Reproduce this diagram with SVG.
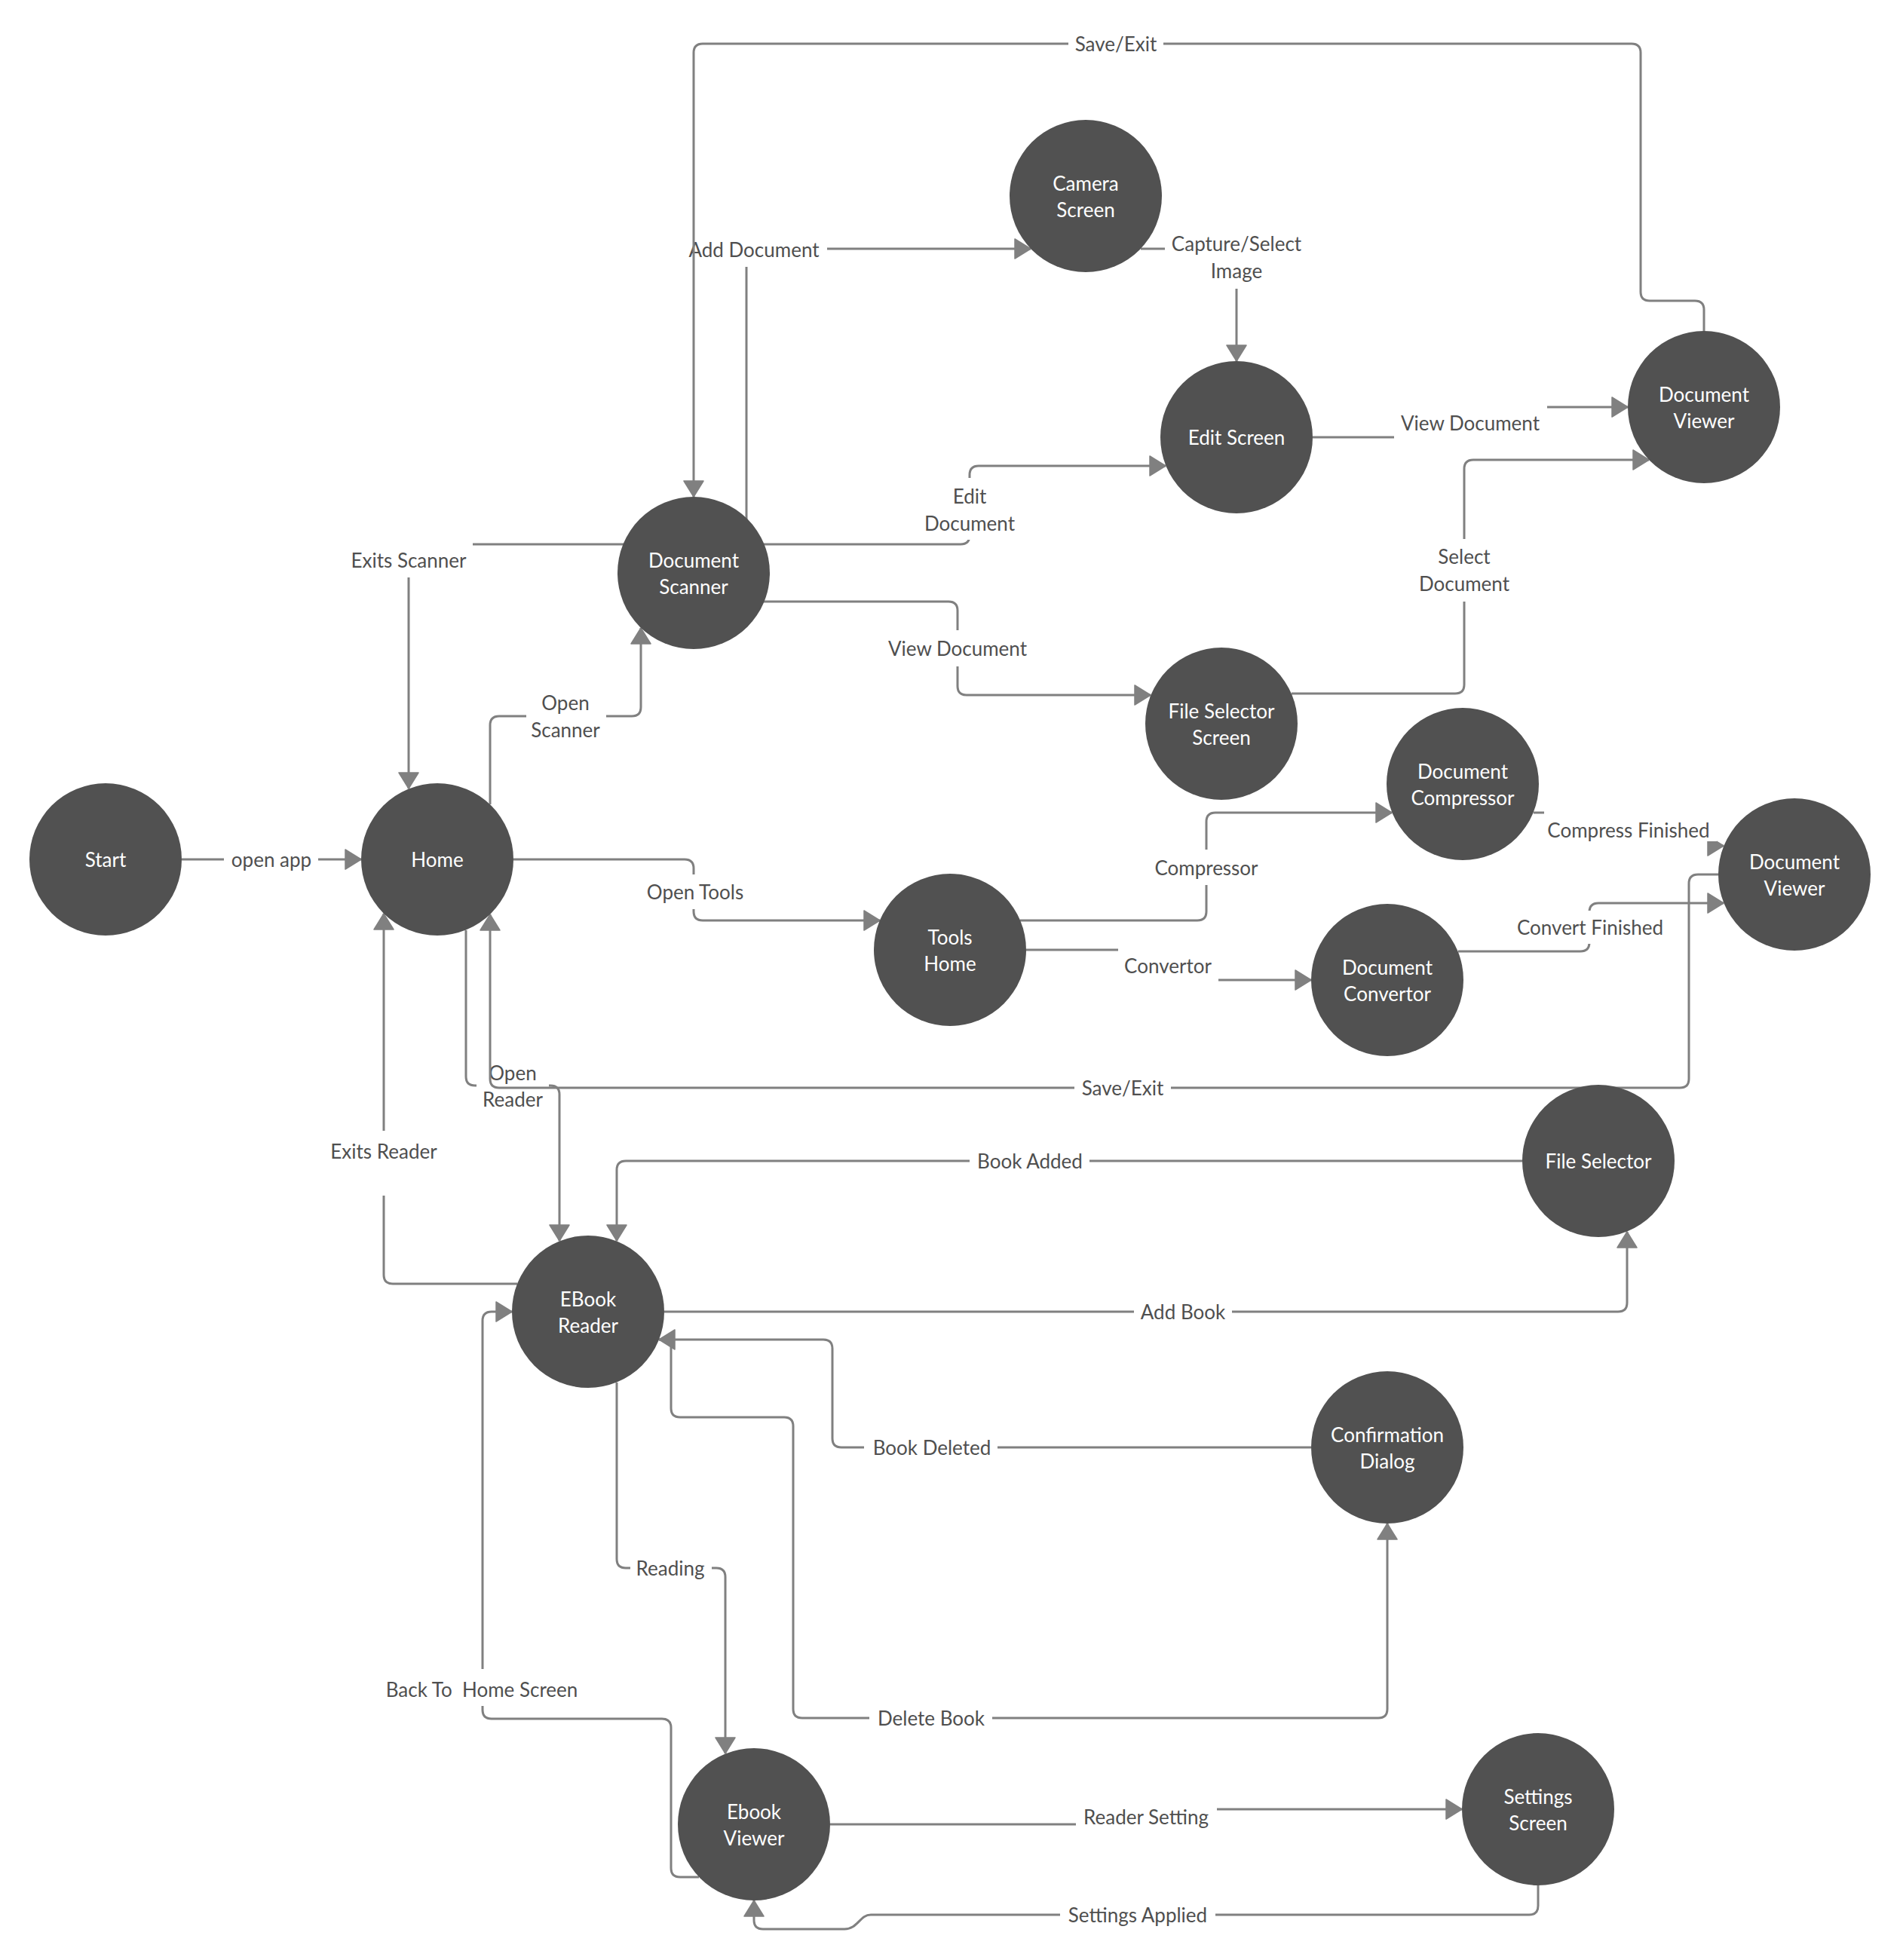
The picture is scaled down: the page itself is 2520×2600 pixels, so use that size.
<svg xmlns="http://www.w3.org/2000/svg" width="2520" height="2600" viewBox="0 0 2520 2600">
  <defs>
    <style>
      .edge { fill: none; stroke: #808080; stroke-width: 3; }
      .arrow { marker-end: url(#head); }
      .lbl rect { fill: #ffffff; }
      .lbl text { fill: #4f4f4f; font-family: Lato, "Liberation Sans", sans-serif; font-size: 26px; text-anchor: middle; }
      .node circle { fill: #515151; }
      .node text { fill: #ffffff; font-family: Lato, "Liberation Sans", sans-serif; font-size: 26px; text-anchor: middle; }
    </style>
    <marker id="head" markerUnits="userSpaceOnUse" markerWidth="26" markerHeight="30" viewBox="-23 -15 26 30" refX="0" refY="0" orient="auto">
      <path d="M-21,-13 L0,0 L-21,13 Z" fill="#808080" stroke="#808080" stroke-width="1.5" stroke-linejoin="round"/>
    </marker>
  </defs>
  <rect width="2520" height="2600" fill="#ffffff"/>

  <!-- connectors (drawn under the nodes) -->
  <g id="connectors">
    <!-- Start -> Home -->
    <path class="edge arrow" d="M241,1140 H479"/>
    <g class="lbl"><rect x="297" y="1117" width="125" height="46"/><text x="360" y="1150">open app</text></g>

    <!-- Home -> Document Scanner -->
    <path class="edge arrow" d="M650,1067 V962 Q650,950 662,950 H838 Q850,950 850,938 V833"/>
    <g class="lbl"><rect x="698" y="909" width="106" height="84"/><text x="750" y="942">Open<tspan x="750" dy="36">Scanner</tspan></text></g>

    <!-- Document Scanner -> Home -->
    <path class="edge arrow" d="M827,722 H554 Q542,722 542,734 V1046"/>
    <g class="lbl"><rect x="457" y="720" width="170" height="46"/><text x="542" y="753">Exits Scanner</text></g>

    <!-- Home -> Tools Home -->
    <path class="edge arrow" d="M681,1140 H908 Q920,1140 920,1152 V1209 Q920,1221 932,1221 H1167"/>
    <g class="lbl"><rect x="848" y="1160" width="148" height="46"/><text x="922" y="1193">Open Tools</text></g>

    <!-- Tools Home -> Document Compressor -->
    <path class="edge arrow" d="M1353,1221 H1588 Q1600,1221 1600,1209 V1090 Q1600,1078 1612,1078 H1846"/>
    <g class="lbl"><rect x="1523" y="1127" width="155" height="47"/><text x="1600" y="1161">Compressor</text></g>

    <!-- Tools Home -> Document Convertor -->
    <path class="edge arrow" d="M1361,1260 H1539 Q1549,1260 1549,1270 V1290 Q1549,1300 1559,1300 H1739"/>
    <g class="lbl"><rect x="1483" y="1257" width="133" height="47"/><text x="1549" y="1291">Convertor</text></g>

    <!-- Document Compressor -> Document Viewer -->
    <path class="edge" d="M2034,1078 H2048"/>
    <path class="edge arrow" d="M2270,1122 H2286"/>
    <g class="lbl"><rect x="2043" y="1080" width="234" height="36"/><text x="2160" y="1111">Compress Finished</text></g>

    <!-- Document Convertor -> Document Viewer -->
    <path class="edge arrow" d="M1934,1262 H2096 Q2108,1262 2108,1250 V1210 Q2108,1198 2120,1198 H2286"/>
    <g class="lbl"><rect x="2003" y="1208" width="213" height="44"/><text x="2109" y="1240">Convert Finished</text></g>

    <!-- Home -> EBook Reader -->
    <path class="edge arrow" d="M618,1234 V1428 Q618,1440 630,1440 H730 Q742,1440 742,1452 V1646"/>
    <g class="lbl"><rect x="632" y="1400" width="96" height="82"/><text x="680" y="1433">Open<tspan x="680" dy="35">Reader</tspan></text></g>

    <!-- EBook Reader -> Home -->
    <path class="edge arrow" d="M686,1703 H521 Q509,1703 509,1691 V1212"/>
    <g class="lbl"><rect x="428" y="1500" width="162" height="86"/><text x="509" y="1537">Exits Reader</text></g>

    <!-- File Selector -> EBook Reader -->
    <path class="edge arrow" d="M2019,1540 H830 Q818,1540 818,1552 V1646"/>
    <g class="lbl"><rect x="1286" y="1517" width="159" height="46"/><text x="1366" y="1550">Book Added</text></g>

    <!-- EBook Reader -> File Selector -->
    <path class="edge arrow" d="M881,1740 H2146 Q2158,1740 2158,1728 V1634"/>
    <g class="lbl"><rect x="1504" y="1717" width="130" height="46"/><text x="1569" y="1750">Add Book</text></g>

    <!-- Confirmation Dialog -> EBook Reader -->
    <path class="edge arrow" d="M1739,1920 H1116 Q1104,1920 1104,1908 V1789 Q1104,1777 1092,1777 H874"/>
    <g class="lbl"><rect x="1146" y="1897" width="177" height="46"/><text x="1236" y="1930">Book Deleted</text></g>

    <!-- EBook Reader -> Confirmation Dialog -->
    <path class="edge arrow" d="M874,1777 H878 Q890,1777 890,1789 V1868 Q890,1880 902,1880 H1040 Q1052,1880 1052,1892 V2267 Q1052,2279 1064,2279 H1828 Q1840,2279 1840,2267 V2021"/>
    <g class="lbl"><rect x="1153" y="2256" width="163" height="46"/><text x="1235" y="2289">Delete Book</text></g>

    <!-- EBook Reader -> Ebook Viewer -->
    <path class="edge arrow" d="M818,1834 V2068 Q818,2080 830,2080 H950 Q962,2080 962,2092 V2326"/>
    <g class="lbl"><rect x="836" y="2057" width="108" height="46"/><text x="889" y="2090">Reading</text></g>

    <!-- Ebook Viewer -> EBook Reader -->
    <path class="edge arrow" d="M927,2490 H902 Q890,2490 890,2478 V2292 Q890,2280 878,2280 H652 Q640,2280 640,2268 V1752 Q640,1740 652,1740 H679"/>
    <g class="lbl"><rect x="502" y="2214" width="274" height="49"/><text x="639" y="2251" xml:space="preserve">Back To  Home Screen</text></g>

    <!-- Ebook Viewer -> Settings Screen -->
    <path class="edge arrow" d="M1101,2420 H1510 Q1520,2420 1520,2410 Q1520,2400 1530,2400 H1939"/>
    <g class="lbl"><rect x="1427" y="2387" width="187" height="46"/><text x="1520" y="2420">Reader Setting</text></g>

    <!-- Settings Screen -> Ebook Viewer -->
    <path class="edge arrow" d="M2040,2501 V2528 Q2040,2540 2028,2540 H1155 C1140,2540 1138,2559 1120,2559 H1012 Q1000,2559 1000,2547 V2521"/>
    <g class="lbl"><rect x="1406" y="2517" width="206" height="46"/><text x="1509" y="2550">Settings Applied</text></g>

    <!-- Document Scanner -> File Selector Screen -->
    <path class="edge arrow" d="M1013,798 H1258 Q1270,798 1270,810 V910 Q1270,922 1282,922 H1526"/>
    <g class="lbl"><rect x="1168" y="836" width="204" height="48"/><text x="1270" y="870">View Document</text></g>

    <!-- File Selector Screen -> Document Viewer -->
    <path class="edge arrow" d="M1713,920 H1930 Q1942,920 1942,908 V622 Q1942,610 1954,610 H2187"/>
    <g class="lbl"><rect x="1875" y="715" width="135" height="83"/><text x="1942" y="748">Select<tspan x="1942" dy="36">Document</tspan></text></g>

    <!-- Document Scanner -> Edit Screen -->
    <path class="edge arrow" d="M1013,722 H1274 Q1286,722 1286,710 V630 Q1286,618 1298,618 H1546"/>
    <g class="lbl"><rect x="1218" y="634" width="136" height="82"/><text x="1286" y="668">Edit<tspan x="1286" dy="36">Document</tspan></text></g>

    <!-- Document Scanner -> Camera Screen -->
    <path class="edge arrow" d="M990,689 V342 Q990,330 1002,330 H1367"/>
    <g class="lbl"><rect x="904" y="308" width="193" height="46"/><text x="1000" y="341">Add Document</text></g>

    <!-- Camera Screen -> Edit Screen -->
    <path class="edge arrow" d="M1513,330 H1628 Q1640,330 1640,342 V479"/>
    <g class="lbl"><rect x="1545" y="300" width="191" height="83"/><text x="1640" y="333">Capture/Select<tspan x="1640" dy="36">Image</tspan></text></g>

    <!-- Edit Screen -> Document Viewer -->
    <path class="edge arrow" d="M1741,580 H1938 Q1950,580 1950,568 V552 Q1950,540 1962,540 H2159"/>
    <g class="lbl"><rect x="1849" y="538" width="203" height="46"/><text x="1950" y="571">View Document</text></g>

    <!-- Document Viewer (right) -> Home -->
    <path class="edge arrow" d="M2279,1160 H2252 Q2240,1160 2240,1172 V1431 Q2240,1443 2228,1443 H662 Q650,1443 650,1431 V1213"/>
    <g class="lbl"><rect x="1425" y="1420" width="128" height="46"/><text x="1489" y="1453">Save/Exit</text></g>

    <!-- Document Viewer (top) -> Document Scanner -->
    <path class="edge arrow" d="M2260,439 V411 Q2260,399 2248,399 H2188 Q2176,399 2176,387 V70 Q2176,58 2164,58 H932 Q920,58 920,70 V659"/>
    <g class="lbl"><rect x="1417" y="35" width="126" height="46"/><text x="1480" y="68">Save/Exit</text></g>
  </g>

  <!-- nodes -->
  <g id="n-start" class="node"><circle cx="140" cy="1140" r="101"/><text x="140" y="1150">Start</text></g>
  <g id="n-home" class="node"><circle cx="580" cy="1140" r="101"/><text x="580" y="1150">Home</text></g>
  <g id="n-document-scanner" class="node"><circle cx="920" cy="760" r="101"/><text x="920" y="753">Document<tspan x="920" dy="35">Scanner</tspan></text></g>
  <g id="n-camera-screen" class="node"><circle cx="1440" cy="260" r="101"/><text x="1440" y="253">Camera<tspan x="1440" dy="35">Screen</tspan></text></g>
  <g id="n-edit-screen" class="node"><circle cx="1640" cy="580" r="101"/><text x="1640" y="590">Edit Screen</text></g>
  <g id="n-document-viewer-top" class="node"><circle cx="2260" cy="540" r="101"/><text x="2260" y="533">Document<tspan x="2260" dy="35">Viewer</tspan></text></g>
  <g id="n-file-selector-screen" class="node"><circle cx="1620" cy="960" r="101"/><text x="1620" y="953">File Selector<tspan x="1620" dy="35">Screen</tspan></text></g>
  <g id="n-document-compressor" class="node"><circle cx="1940" cy="1040" r="101"/><text x="1940" y="1033">Document<tspan x="1940" dy="35">Compressor</tspan></text></g>
  <g id="n-document-viewer-right" class="node"><circle cx="2380" cy="1160" r="101"/><text x="2380" y="1153">Document<tspan x="2380" dy="35">Viewer</tspan></text></g>
  <g id="n-tools-home" class="node"><circle cx="1260" cy="1260" r="101"/><text x="1260" y="1253">Tools<tspan x="1260" dy="35">Home</tspan></text></g>
  <g id="n-document-convertor" class="node"><circle cx="1840" cy="1300" r="101"/><text x="1840" y="1293">Document<tspan x="1840" dy="35">Convertor</tspan></text></g>
  <g id="n-file-selector" class="node"><circle cx="2120" cy="1540" r="101"/><text x="2120" y="1550">File Selector</text></g>
  <g id="n-ebook-reader" class="node"><circle cx="780" cy="1740" r="101"/><text x="780" y="1733">EBook<tspan x="780" dy="35">Reader</tspan></text></g>
  <g id="n-confirmation-dialog" class="node"><circle cx="1840" cy="1920" r="101"/><text x="1840" y="1913">Confirmation<tspan x="1840" dy="35">Dialog</tspan></text></g>
  <g id="n-ebook-viewer" class="node"><circle cx="1000" cy="2420" r="101"/><text x="1000" y="2413">Ebook<tspan x="1000" dy="35">Viewer</tspan></text></g>
  <g id="n-settings-screen" class="node"><circle cx="2040" cy="2400" r="101"/><text x="2040" y="2393">Settings<tspan x="2040" dy="35">Screen</tspan></text></g>
</svg>
